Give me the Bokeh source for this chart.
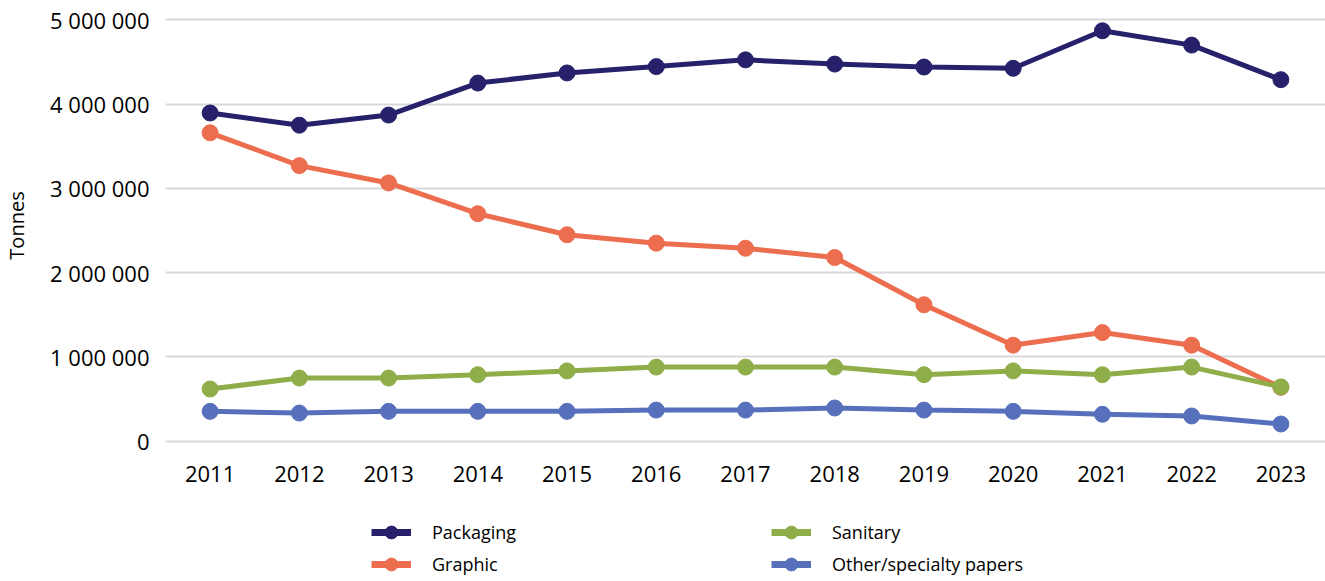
from bokeh.plotting import figure
from bokeh.layouts import column
from bokeh.models import (FactorRange, Range1d, FixedTicker, CustomJSTickFormatter,
                          Legend, LegendItem, ColumnDataSource)
from bokeh.embed import file_html
from bokeh.resources import INLINE

years = ["2011", "2012", "2013", "2014", "2015", "2016", "2017",
         "2018", "2019", "2020", "2021", "2022", "2023"]
packaging = [3895000, 3750000, 3870000, 4250000, 4370000, 4445000, 4525000,
             4475000, 4440000, 4425000, 4870000, 4700000, 4290000]
graphic = [3660000, 3270000, 3065000, 2700000, 2450000, 2350000, 2290000,
           2180000, 1620000, 1140000, 1290000, 1140000, 640000]
sanitary = [620000, 750000, 750000, 790000, 835000, 880000, 880000,
            880000, 790000, 835000, 790000, 880000, 645000]
other = [355000, 335000, 355000, 355000, 355000, 370000, 370000,
         395000, 370000, 355000, 320000, 300000, 205000]

series_names = ["Packaging", "Graphic", "Sanitary", "Other/specialty papers"]
series_vals = [packaging, graphic, sanitary, other]
colors = ["#27216b", "#ec6e4f", "#8fae4a", "#5670bc"]

FONT = "Open Sans"

p = figure(width=1325, height=500, x_range=FactorRange(*years),
           y_range=Range1d(-50000, 5170000), output_backend="svg",
           toolbar_location=None, min_border_left=165, min_border_right=0,
           min_border_top=5, min_border_bottom=55)
p.outline_line_color = None
p.background_fill_color = "white"
p.border_fill_color = "white"

sources = []
for name, vals, c in zip(series_names, series_vals, colors):
    src = ColumnDataSource(dict(x=years, y=vals))
    sources.append(src)
    p.line("x", "y", source=src, line_color=c, line_width=5)
    p.scatter("x", "y", source=src, size=16, fill_color=c, line_color=c)

p.yaxis.ticker = FixedTicker(ticks=[0, 1000000, 2000000, 3000000, 4000000, 5000000])
p.yaxis.formatter = CustomJSTickFormatter(
    code='return Math.round(tick).toString().replace(/\\B(?=(\\d{3})+(?!\\d))/g, " ");')
p.yaxis.axis_label = "Tonnes"
p.yaxis.axis_label_text_font = FONT
p.yaxis.axis_label_text_font_style = "normal"
p.yaxis.axis_label_text_font_size = "20px"
p.yaxis.axis_label_text_color = "black"
p.yaxis.axis_label_standoff = 17
for ax in (p.xaxis, p.yaxis):
    ax.axis_line_color = None
    ax.major_tick_line_color = None
    ax.minor_tick_line_color = None
    ax.major_label_text_font = FONT
    ax.major_label_text_font_size = "22px"
    ax.major_label_text_color = "black"
p.yaxis.major_label_standoff = 10
p.xaxis.major_label_standoff = 14
p.xgrid.grid_line_color = None
p.ygrid.grid_line_color = "#d9d9d9"
p.ygrid.grid_line_width = 2

# legend-only strip below the chart (series kept out of its visible range)
lf = figure(width=1325, height=81, x_range=FactorRange(*years),
            y_range=Range1d(-2e7, -1e7),
            output_backend="svg", toolbar_location=None,
            x_axis_type=None, y_axis_type=None,
            min_border_left=0, min_border_right=0, min_border_top=0, min_border_bottom=0)
lf.outline_line_color = None
lf.xgrid.visible = False
lf.ygrid.visible = False
items = []
for name, src, c in zip(series_names, sources, colors):
    r1 = lf.line("x", "y", source=src, line_color=c, line_width=7)
    r2 = lf.scatter("x", "y", source=src, size=16, fill_color=c, line_color=c)
    items.append(LegendItem(label=name, renderers=[r1, r2]))
legend = Legend(items=items, location=(206, 1), ncols=2,
                label_text_font=FONT, label_text_font_size="18px",
                label_text_color="black",
                glyph_width=40, glyph_height=32, label_width=339,
                spacing=0, border_line_color=None, background_fill_alpha=0,
                label_standoff=21, padding=0, margin=0)
lf.add_layout(legend, "center")

layout = column(p, lf, spacing=0)
open("out.html", "w").write(file_html(layout, INLINE))
